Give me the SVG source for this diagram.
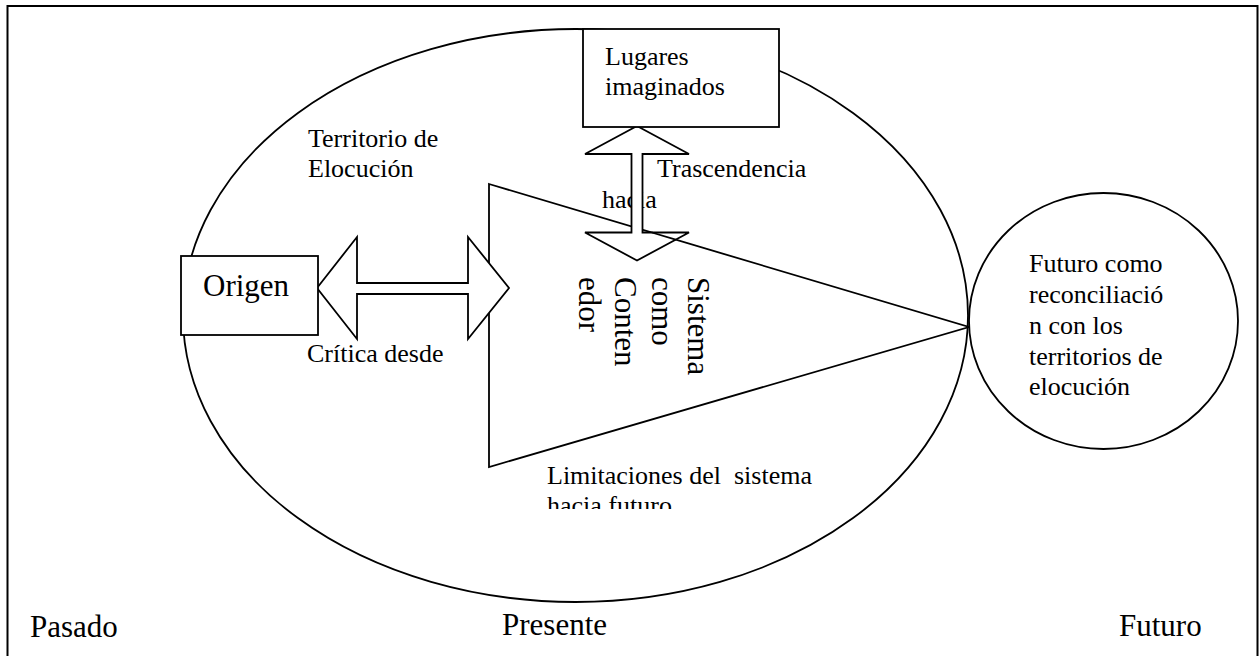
<svg xmlns="http://www.w3.org/2000/svg" width="1259" height="656" viewBox="0 0 1259 656" font-family="'Liberation Serif', 'Times New Roman', serif">
<style>
.ln{fill:none;stroke:#000;stroke-width:1.8}
.wf{fill:#fff;stroke:#000;stroke-width:1.8;stroke-linejoin:miter}
text{font-family:'Liberation Serif','Times New Roman',serif;fill:#000}
.t{font-size:26px}
.tb{font-size:31px}
</style>
<defs>
<clipPath id="limclip"><rect x="540" y="460" width="320" height="49"/></clipPath>
</defs>
<rect width="1259" height="656" fill="#fff"/>
<path id="frame" d="M7.5,656 V6 H1257.5 V656" fill="none" stroke="#000" stroke-width="2"/>
<g id="territorio">
<ellipse cx="575.5" cy="315.5" rx="392.5" ry="286.5" class="ln"/>
<text class="t" x="308" y="147">Territorio de</text>
<text class="t" x="308" y="177">Elocución</text>
</g>
<g id="sistema">
<polygon points="489,184 969,327 489,467" class="wf"/>
</g>
<text class="t" x="602" y="208">hacia</text>
<text class="t" x="657" y="177">Trascendencia</text>
<text class="t" x="307" y="362">Crítica desde</text>
<g id="limitaciones" clip-path="url(#limclip)">
<text class="t" x="547" y="484">Limitaciones del&#160; sistema</text>
<text class="t" x="547" y="514">hacia futuro</text>
</g>
<g id="connectors">
<polygon class="wf" points="637,126 689,154 642.5,154 642.5,232.5 689,232.5 637,260.5 585,232.5 631.5,232.5 631.5,154 585,154"/>
<polygon class="wf" points="317,288 357,237 357,283 468,283 468,237 509,288 468,339 468,294 357,294 357,339"/>
<line class="ln" x1="651.8" y1="232.5" x2="675.7" y2="239.6"/>
</g>
<g id="lugares">
<rect x="583" y="29" width="196" height="98" class="wf"/>
<text class="t" x="605" y="65">Lugares</text>
<text class="t" x="605" y="94.5">imaginados</text>
</g>
<g id="origen">
<rect x="181" y="256" width="137" height="79" class="wf"/>
<text class="tb" x="203" y="296">Origen</text>
</g>
<g id="sistema-label">
<text class="tb" transform="translate(688,277) rotate(90)"><tspan x="0" y="0">Sistema</tspan><tspan x="0" y="36.5">como</tspan><tspan x="0" y="73">Conten</tspan><tspan x="0" y="109.5">edor</tspan></text>
</g>
<g id="futuro-circulo">
<ellipse cx="1103.5" cy="321" rx="134.5" ry="128" class="wf"/>
<text class="t" x="1029" y="272">Futuro como</text>
<text class="t" x="1029" y="303">reconciliació</text>
<text class="t" x="1029" y="334">n con los</text>
<text class="t" x="1029" y="365">territorios de</text>
<text class="t" x="1029" y="395">elocución</text>
</g>
<g id="timeline">
<text class="tb" x="30" y="637">Pasado</text>
<text class="tb" x="502" y="635">Presente</text>
<text class="tb" x="1119" y="636">Futuro</text>
</g>
</svg>
